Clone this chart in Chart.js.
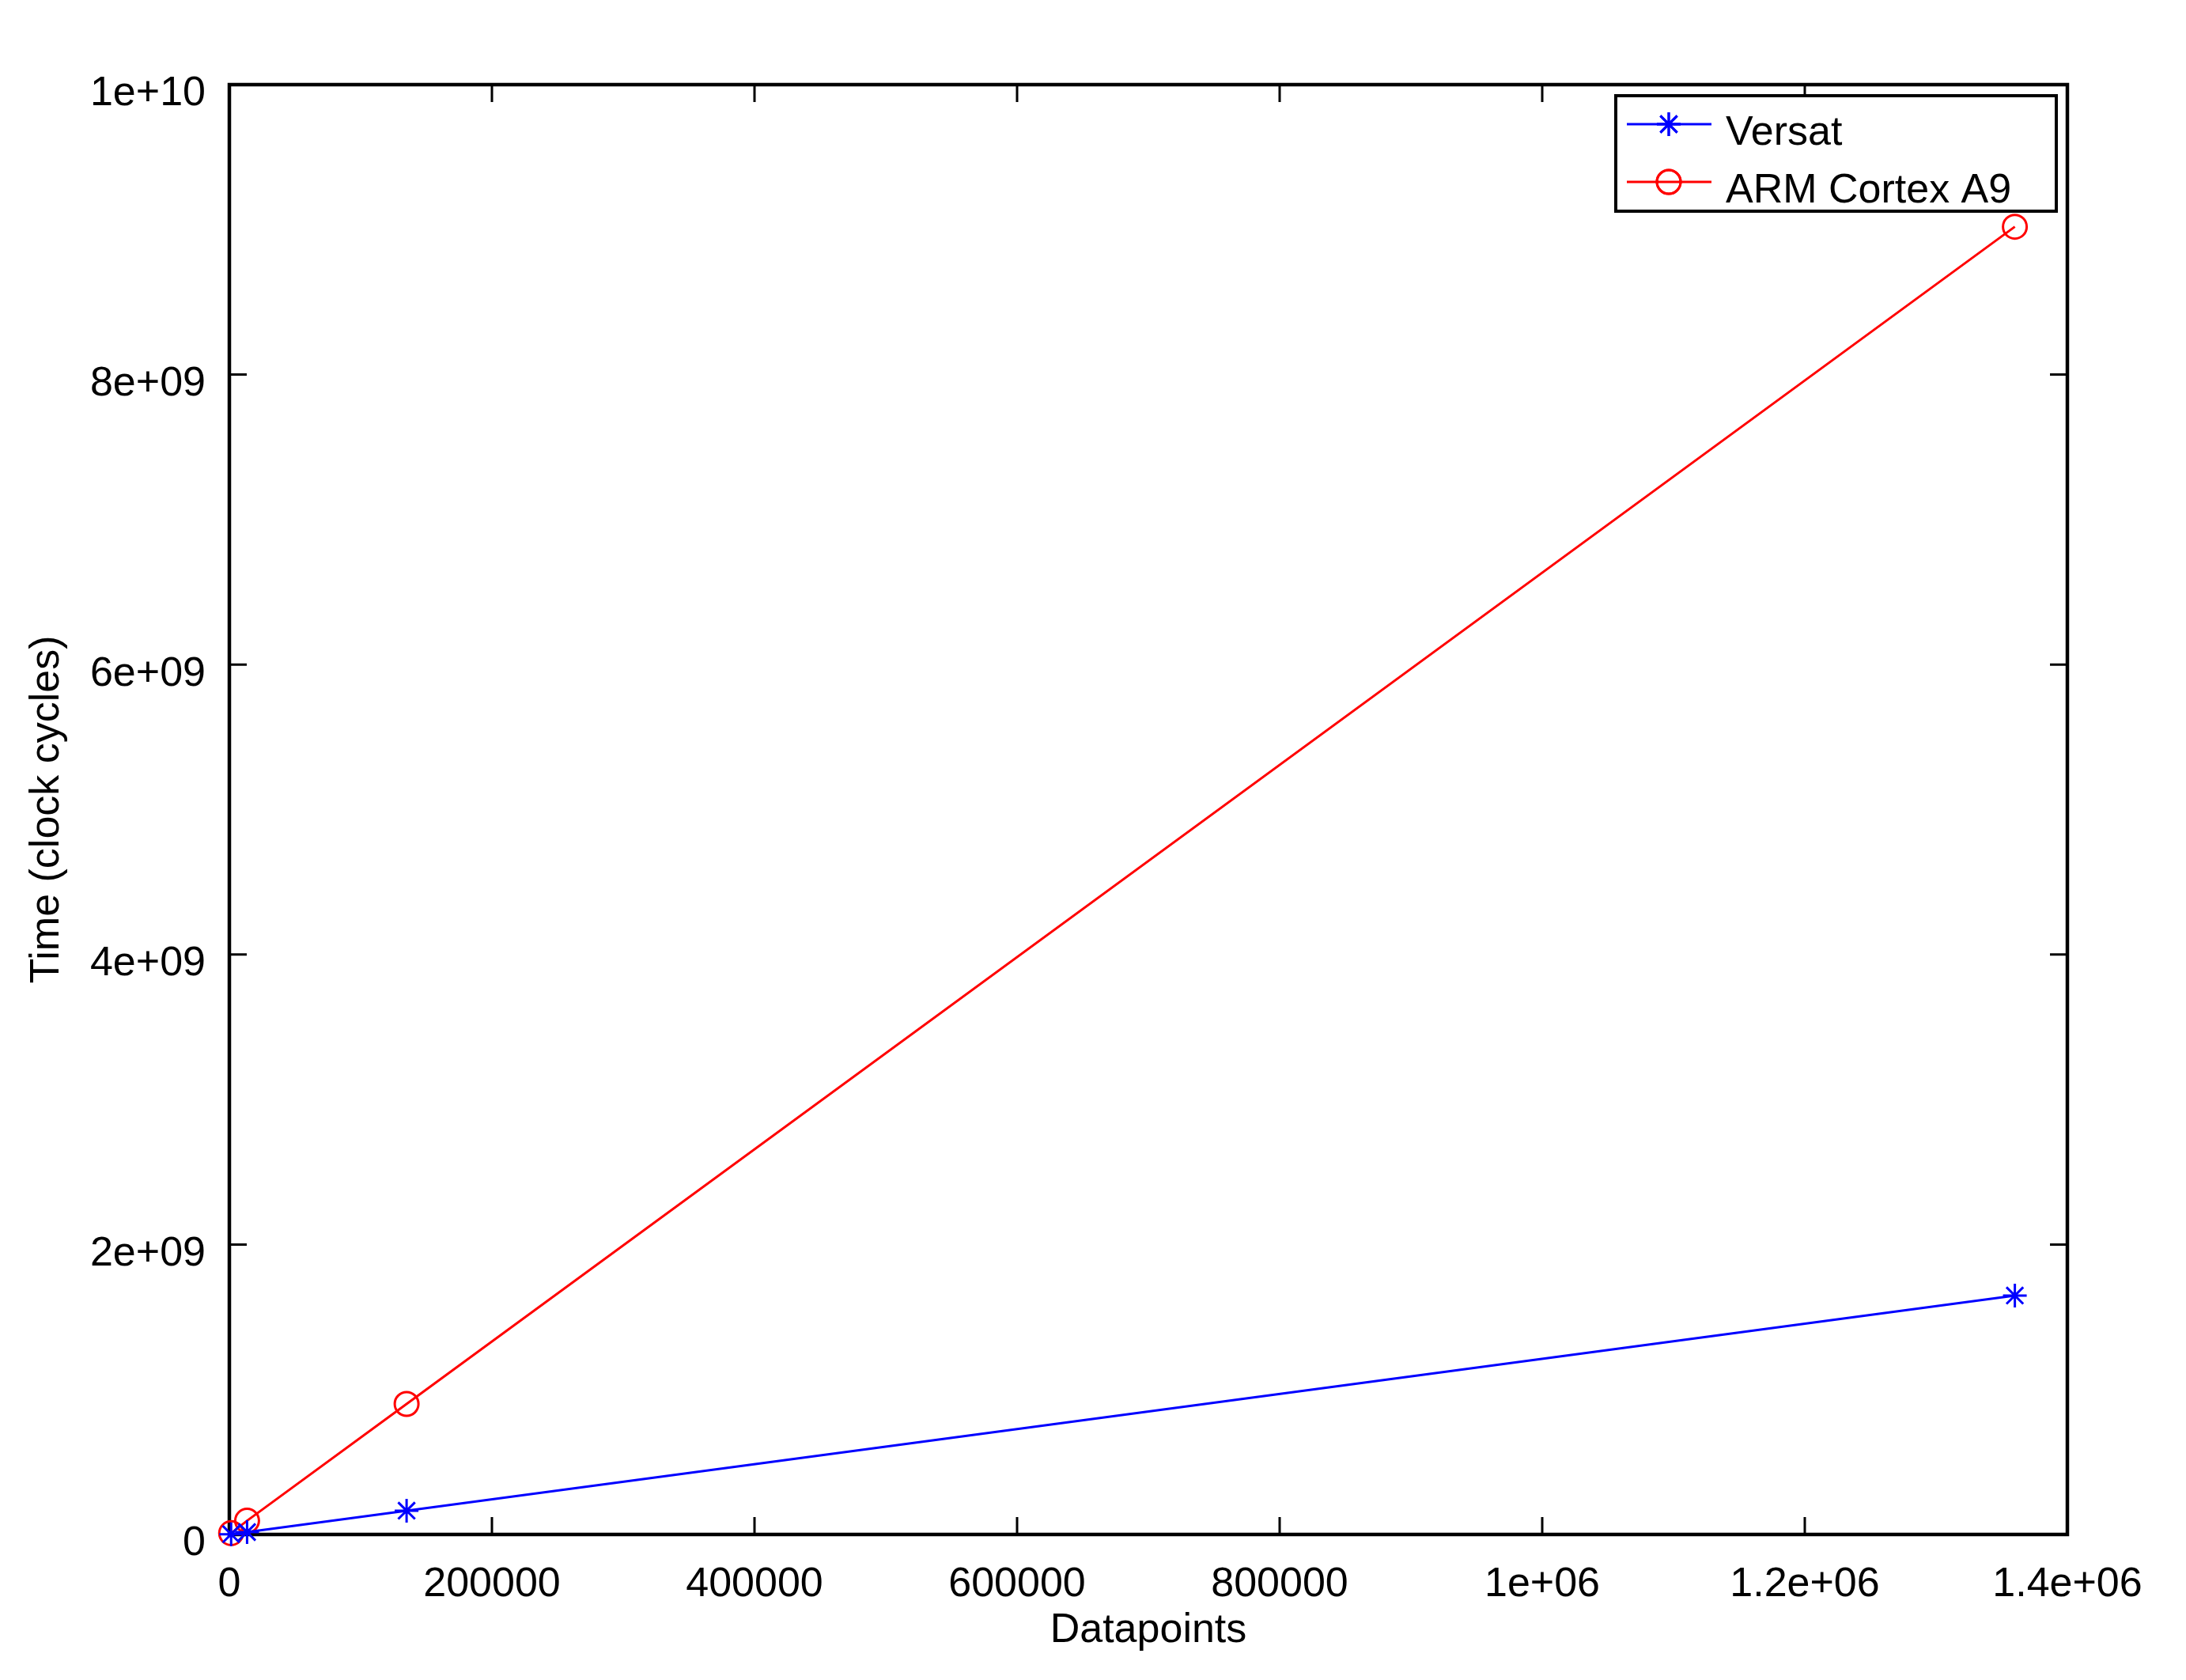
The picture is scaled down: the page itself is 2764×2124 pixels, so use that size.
<!DOCTYPE html>
<html>
<head>
<meta charset="utf-8">
<script src="https://cdn.jsdelivr.net/npm/chart.js@4/dist/chart.umd.min.js"></script>
<style>
  html, body { margin: 0; padding: 0; background: #fff; }
  canvas { display: block; }
</style>
</head>
<body>
<canvas id="c" width="2764" height="2124"></canvas>
<script>
// --- data ------------------------------------------------------------
const datapoints  = [1350, 13500, 135000, 1360000];
const versatTime  = [1.65e6, 1.65e7, 1.64e8, 1.648e9];
const armTime     = [9.0e6, 9.5e7, 9.0e8, 9.02e9];
const seriesNames = ["Versat", "ARM Cortex A9"];

const xTickLabels = ["0", "200000", "400000", "600000", "800000", "1e+06", "1.2e+06", "1.4e+06"];
const yTickLabels = ["0", "2e+09", "4e+09", "6e+09", "8e+09", "1e+10"];

const FONT = "'Liberation Sans', Arial, Helvetica, sans-serif";
const TICK = 22;

// octave-style frame: box round the plot + inward ticks on all 4 sides
const framePlugin = {
  id: "frame",
  beforeDatasetsDraw(chart) {
    const { ctx, chartArea: a, scales: { x, y } } = chart;
    ctx.save();
    ctx.strokeStyle = "#000";
    ctx.lineWidth = 3;
    ctx.beginPath();
    x.ticks.forEach((t) => {
      const px = x.getPixelForValue(t.value);
      ctx.moveTo(px, a.bottom); ctx.lineTo(px, a.bottom - TICK);
      ctx.moveTo(px, a.top);    ctx.lineTo(px, a.top + TICK);
    });
    y.ticks.forEach((t) => {
      const py = y.getPixelForValue(t.value);
      ctx.moveTo(a.left, py);  ctx.lineTo(a.left + TICK, py);
      ctx.moveTo(a.right, py); ctx.lineTo(a.right - TICK, py);
    });
    ctx.stroke();
    ctx.lineWidth = 4.5;
    ctx.strokeRect(a.left, a.top, a.right - a.left, a.bottom - a.top);
    ctx.restore();
  },
};

// legend box in the upper right corner, built from the datasets
const legendPlugin = {
  id: "boxLegend",
  afterDraw(chart) {
    const { ctx } = chart;
    const box = { x: 2043, y: 121, w: 557, h: 146 };
    const rows = [157, 230];
    ctx.save();
    ctx.fillStyle = "#fff";
    ctx.fillRect(box.x, box.y, box.w, box.h);
    ctx.strokeStyle = "#000";
    ctx.lineWidth = 4;
    ctx.strokeRect(box.x, box.y, box.w, box.h);
    chart.data.datasets.forEach((ds, i) => {
      const ly = rows[i];
      ctx.strokeStyle = ds.borderColor;
      ctx.lineWidth = 3;
      ctx.beginPath();
      ctx.moveTo(2057, ly); ctx.lineTo(2164, ly);
      ctx.stroke();
      ctx.fillStyle = "rgba(0,0,0,0)";
      Chart.helpers.drawPoint(ctx, {
        pointStyle: ds.pointStyle, radius: ds.pointRadius, rotation: 0, borderWidth: ds.borderWidth,
      }, 2110, ly);
      ctx.stroke();
      ctx.fillStyle = "#000";
      ctx.font = "52px " + FONT;
      ctx.textBaseline = "alphabetic";
      ctx.fillText(ds.label, 2182, ly + 26);
    });
    ctx.restore();
  },
};

const toXY = (ys) => datapoints.map((x, i) => ({ x, y: ys[i] }));

new Chart(document.getElementById("c"), {
  type: "scatter",
  data: {
    datasets: [
      { label: seriesNames[0], data: toXY(versatTime), showLine: true,
        borderColor: "#0000ff", backgroundColor: "rgba(0,0,0,0)", borderWidth: 3,
        pointStyle: "star", pointRadius: 15, pointBorderWidth: 3, pointHoverRadius: 15, clip: false },
      { label: seriesNames[1], data: toXY(armTime), showLine: true,
        borderColor: "#ff0000", backgroundColor: "rgba(0,0,0,0)", borderWidth: 3,
        pointStyle: "circle", pointRadius: 15, pointBorderWidth: 3, pointHoverRadius: 15, clip: false },
    ],
  },
  options: {
    responsive: false,
    maintainAspectRatio: false,
    animation: false,
    events: [],
    layout: { padding: { left: 0, right: 150, top: 107, bottom: 0 } },
    plugins: { legend: { display: false }, tooltip: { enabled: false } },
    scales: {
      x: {
        type: "linear", min: 0, max: 1.4e6,
        grid: { display: false, drawTicks: false },
        border: { display: false },
        afterFit: (s) => { s.height = 184; },
        ticks: {
          stepSize: 200000, autoSkip: false, maxRotation: 0, padding: 32,
          color: "#000", font: { family: FONT, size: 52 },
          callback: (v, i) => xTickLabels[i],
        },
        title: { display: true, text: "Datapoints", color: "#000",
                 font: { family: FONT, size: 52 }, padding: { top: 0, bottom: 31 } },
      },
      y: {
        type: "linear", min: 0, max: 1e10,
        grid: { display: false, drawTicks: false },
        border: { display: false },
        afterFit: (s) => { s.width = 290; },
        ticks: {
          stepSize: 2e9, autoSkip: false, padding: 30, labelOffset: 12,
          color: "#000", font: { family: FONT, size: 52 },
          callback: (v, i) => yTickLabels[i],
        },
        title: { display: true, text: "Time (clock cycles)", color: "#000",
                 font: { family: FONT, size: 52 }, padding: { top: 28, bottom: 0 } },
      },
    },
  },
  plugins: [framePlugin, legendPlugin],
});
</script>
</body>
</html>
